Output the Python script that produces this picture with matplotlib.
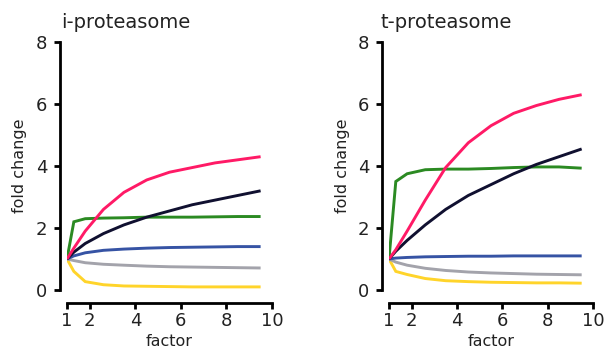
import matplotlib.pyplot as plt

factor = [1, 1.3, 1.8, 2.6, 3.5, 4.5, 5.5, 6.5, 7.5, 8.5, 9.5]

i_pink = [1, 1.35, 1.9, 2.6, 3.15, 3.55, 3.8, 3.95, 4.1, 4.2, 4.3]
i_black = [1, 1.22, 1.5, 1.82, 2.1, 2.35, 2.55, 2.75, 2.9, 3.05, 3.2]
i_green = [1, 2.2, 2.3, 2.32, 2.33, 2.35, 2.35, 2.35, 2.36, 2.37, 2.37]
i_blue = [1, 1.1, 1.2, 1.28, 1.32, 1.35, 1.37, 1.38, 1.39, 1.4, 1.4]
i_grey = [1, 0.95, 0.88, 0.83, 0.8, 0.77, 0.75, 0.74, 0.73, 0.72, 0.71]
i_yellow = [1, 0.6, 0.27, 0.17, 0.13, 0.12, 0.11, 0.1, 0.1, 0.1, 0.1]

t_pink = [1, 1.3, 1.9, 2.9, 3.95, 4.75, 5.3, 5.7, 5.95, 6.15, 6.3]
t_black = [1, 1.25, 1.6, 2.1, 2.6, 3.05, 3.4, 3.75, 4.05, 4.3, 4.55]
t_green = [1, 3.5, 3.75, 3.88, 3.9, 3.9, 3.92, 3.95, 3.97, 3.97, 3.93]
t_blue = [1, 1.03, 1.05, 1.07, 1.08, 1.09, 1.09, 1.1, 1.1, 1.1, 1.1]
t_grey = [1, 0.9, 0.8, 0.7, 0.63, 0.58, 0.55, 0.53, 0.51, 0.5, 0.49]
t_yellow = [1, 0.6, 0.5, 0.37, 0.3, 0.27, 0.25, 0.24, 0.23, 0.23, 0.22]

xticks = [1, 2, 4, 6, 8, 10]
yticks = [0, 2, 4, 6, 8]

COLORS = {
    "yellow": "#FFD42A",
    "grey": "#A3A3AB",
    "blue": "#3653A4",
    "green": "#2B8A22",
    "black": "#101030",
    "pink": "#FF1A66",
}

plt.rcParams["font.family"] = ["DejaVu Sans"]

fig = plt.figure(figsize=(6.04, 3.5), dpi=100)


def draw_panel(rect, title, title_x, series, ylabel_x):
    ax = fig.add_axes(rect)
    for name in ["yellow", "grey", "blue", "green", "black", "pink"]:
        ax.plot(factor, series[name], color=COLORS[name], lw=2.1,
                solid_joinstyle="miter", solid_capstyle="butt")
    ax.set_xlim(1, 10)
    ax.set_ylim(0, 8)
    ax.set_xticks(xticks)
    ax.set_yticks(yticks)
    for s in ["top", "right"]:
        ax.spines[s].set_visible(False)
    ax.spines["left"].set_position(("outward", 5))
    ax.spines["bottom"].set_position(("outward", 9))
    ax.spines["left"].set_bounds(0, 8)
    ax.spines["bottom"].set_bounds(1, 10)
    for s in ["left", "bottom"]:
        ax.spines[s].set_linewidth(2.0)
    ax.tick_params(width=2.0, length=4, labelsize=13, color="black",
                   labelcolor="#222222")
    ax.tick_params(axis="y", pad=5)
    ax.tick_params(axis="x", pad=3)
    ax.set_xlabel("factor", fontsize=11.5, color="#222222")
    ax.set_ylabel("fold change", fontsize=11.5, color="#222222")
    pos = ax.get_position()
    ax.xaxis.set_label_coords(0.5, -52 / 248)
    ax.xaxis.label.set_va("center")
    ax.yaxis.set_label_coords((ylabel_x - pos.x0 * 604) / (pos.width * 604), 0.5)
    ax.yaxis.label.set_va("center")
    fig.text(title_x, 1 - 22 / 350, title, fontsize=14, ha="left", va="center",
             color="#222222")
    return ax


draw_panel([67 / 604, 60 / 350, 205 / 604, 248 / 350], "i-proteasome", 61 / 604,
           {"pink": i_pink, "black": i_black, "green": i_green,
            "blue": i_blue, "grey": i_grey, "yellow": i_yellow}, 20)
draw_panel([389 / 604, 60 / 350, 204 / 604, 248 / 350], "t-proteasome", 381 / 604,
           {"pink": t_pink, "black": t_black, "green": t_green,
            "blue": t_blue, "grey": t_grey, "yellow": t_yellow}, 343)

fig.savefig("out.png", dpi=100)
